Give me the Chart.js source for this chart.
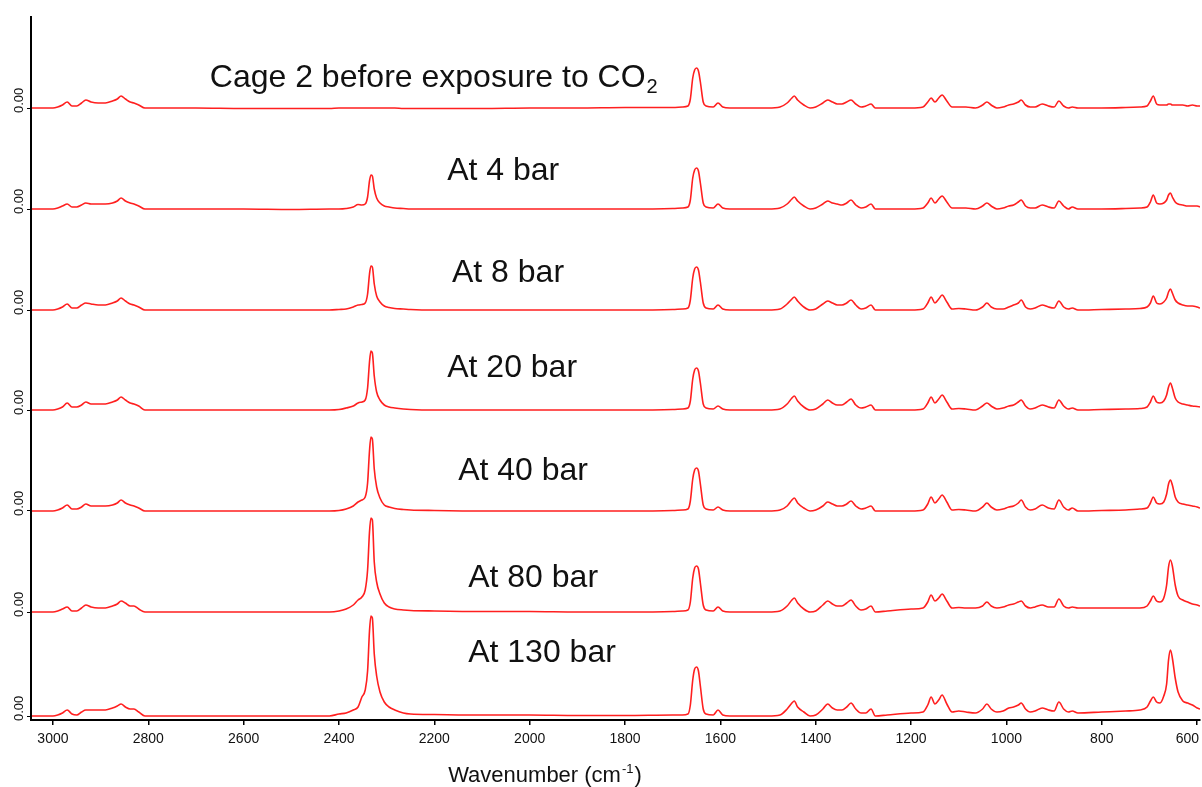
<!DOCTYPE html>
<html>
<head>
<meta charset="utf-8">
<script src="https://cdn.jsdelivr.net/npm/chart.js@4.4.1/dist/chart.umd.min.js"></script>
<style>
  html, body { margin: 0; padding: 0; background: #ffffff; }
  #wrap { width: 1202px; height: 787px; position: relative; }
</style>
</head>
<body>
<div id="wrap"><canvas id="spectra"></canvas></div>
<script>
// Raman shift axis (cm-1), shared by every trace
const wavenumbers = [
  3044, 3000, 2990, 2980, 2970, 2960, 2950, 2940, 2931, 2920, 2905, 2890, 2875, 2865, 2857, 2848, 2838, 2830, 2820, 2807,
  2700, 2600, 2500, 2420, 2400, 2385, 2370, 2360, 2352, 2345, 2340, 2336, 2333, 2330, 2326, 2321, 2314, 2305, 2295, 2283, 2265, 2250, 2200, 2100, 2000, 1900, 1800,
  1700, 1680, 1668, 1663, 1658, 1654, 1650, 1646, 1642, 1636, 1630, 1615, 1605, 1595, 1580, 1500,
  1475, 1460, 1450, 1445, 1438, 1425, 1412, 1400, 1385, 1375, 1365, 1355, 1345, 1335, 1326, 1316, 1305, 1295, 1284, 1275, 1250, 1200,
  1175, 1165, 1158, 1150, 1142, 1135, 1125, 1114, 1100, 1085, 1065, 1050, 1041, 1032, 1020, 1007, 995, 985, 975, 969, 960, 950, 940, 925, 912, 900, 890, 880, 870, 862, 850, 800, 750,
  720, 705, 698, 692, 685, 678, 670, 664, 660, 656, 652, 646, 640, 630, 620, 610, 600, 594
];

// Intensities above each trace's own zero line
const beforeCO2 = [
  0, 0, 1, 3, 6, 2, 2, 5, 8, 6, 5, 5, 7, 9, 12, 9, 6, 5, 3, 0,
  0, -0.5, -0.5, -0.5, 0, 0, 0, 0, 0, 0, 0, 0, 0, 0, 0, 0, 0, 0, 0, 0, -0.5, -0.5, -0.5, -0.5, 0, 0, 0.5,
  0.5, 1, 2, 9, 30, 38, 40, 37, 26, 6, 2, 1, 5, 1, 0, 0,
  1, 5, 10, 12, 8, 3, 0, 1, 5, 8, 6, 4, 4, 6, 8, 4, 1, 2, 4, 0, 0, 0,
  1, 6, 10, 6, 10, 13, 7, 1, 1, 1, 0, 3, 6, 3, 0, 1, 3, 4, 6, 8, 3, 1, 1, 4, 2, 1, 7, 2, 0, 1, 0, 0, 0.5,
  1, 2, 7, 12, 4, 3, 3, 3, 4, 4, 3, 3, 3, 3, 2, 3, 2, 2
];
const bar4 = [
  0, 0, 1, 3, 5, 2, 2, 4, 6, 5, 5, 5, 6, 8, 11, 8, 6, 5, 3, 0,
  0, 0, -0.5, 0, 0, 0.5, 2, 4.5, 4, 5, 12, 28, 34, 33, 20, 11, 6, 3, 2, 1, 0.5, 0, 0, 0, 0, 0, 0,
  0.5, 1, 2, 9, 31, 39, 41, 38, 26, 6, 2, 1, 5, 1, 0, 0,
  1, 5, 10, 12, 8, 3, 0, 1, 5, 8, 6, 5, 4, 6, 9, 4, 1, 2, 5, 0, 0, 0,
  1, 6, 11, 6, 10, 13, 7, 1, 1, 1, 0, 3, 6, 3, 0, 1, 3, 4, 7, 9, 3, 1, 1, 4, 2, 1, 8, 3, 0, 2, 0, 0, 0.5,
  1, 2, 7, 14, 6, 5, 6, 9, 14, 16, 12, 7, 5, 4, 3, 3, 3, 2
];
const bar8 = [
  0, 0, 1, 3, 6, 2, 2, 5, 7, 6, 5, 5, 7, 9, 12, 9, 6, 5, 3, 0,
  0, 0, 0, 0, 0.5, 1, 3, 5, 5.5, 7, 16, 36, 44, 43, 26, 14, 8, 4, 2.5, 1.5, 1, 0.5, 0, 0, 0, 0, 0,
  0.5, 1, 2, 10, 32, 41, 43, 40, 28, 7, 2, 1, 5, 1, 0, 0,
  1, 6, 11, 13, 9, 3, 0, 1, 6, 9, 7, 5, 5, 7, 10, 5, 1, 2, 5, 0, 0, 0,
  1, 7, 13, 7, 11, 15, 8, 1, 1.5, 1, 0, 3, 7, 3, 1, 1, 3, 5, 7, 10, 3, 1, 2, 5, 3, 2, 9, 3, 1, 2, 0, 0.5, 1,
  1.5, 3, 7, 14, 7, 6, 8, 12, 18, 21, 17, 10, 7, 5, 4, 4, 3, 2
];
const bar20 = [
  0, 0, 1, 3, 7, 3, 3, 5, 8, 6, 6, 6, 8, 10, 13, 10, 7, 6, 4, 0,
  0, 0, 0, 0, 0.5, 2, 4, 7, 8, 10, 22, 48, 59, 57, 34, 18, 10, 5, 3, 2, 1, 0.5, 0, 0, 0, 0, 0,
  0.5, 1, 2, 9, 31, 40, 42, 39, 27, 6, 2, 1, 4, 1, 0, 0,
  1, 6, 12, 14, 9, 3, 0, 1, 6, 10, 7, 5, 5, 8, 11, 5, 2, 3, 5, 0, 0, 0,
  1, 7, 13, 7, 11, 15, 8, 1, 1.5, 1, 0, 4, 7, 4, 1, 2, 4, 5, 8, 10, 4, 1, 2, 5, 3, 2, 10, 4, 1, 2, 0, 0.5, 1,
  1.5, 3, 8, 14, 8, 7, 9, 15, 23, 27, 22, 12, 8, 6, 5, 4, 3.5, 3
];
const bar40 = [
  0, 0, 1, 3, 6, 2, 2, 4, 7, 5, 5, 5, 6, 8, 11, 8, 6, 5, 3, 0,
  0, 0, 0, 0, 0.5, 2, 5, 9, 11, 14, 28, 60, 74, 72, 42, 24, 13, 6, 4, 2.5, 1.5, 1, 0.5, 0, 0, 0, 0,
  0.5, 1, 2, 10, 32, 41, 43, 40, 27, 6, 2, 1, 4, 1, 0, 0,
  1, 5, 11, 13, 8, 3, 0, 1, 5, 9, 7, 5, 5, 7, 10, 5, 2, 3, 5, 0, 0, 0,
  1, 7, 14, 8, 12, 16, 9, 1, 1.5, 1, 0, 4, 8, 4, 1, 2, 4, 5, 8, 11, 4, 1, 2, 6, 3, 2, 11, 4, 1, 3, 0, 0.5, 1,
  2, 3, 8, 14, 8, 7, 9, 17, 27, 31, 26, 14, 9, 7, 6, 5, 4, 3
];
const bar80 = [
  0, 0, 1, 3, 5, 1, 1, 4, 7, 5, 4, 4, 6, 8, 11, 9, 6, 6, 3, 0,
  0, 0, 0, 0, 1, 3, 7, 12, 15, 22, 42, 80, 94, 92, 50, 30, 18, 9, 5, 3, 2, 1.5, 1, 0.5, 0.5, 0, 0,
  0.5, 1, 2, 10, 34, 44, 46, 43, 29, 7, 2, 1, 5, 1, 0, 0,
  1, 6, 12, 14, 9, 3, 0, 1, 7, 11, 8, 6, 6, 9, 12, 6, 2, 3, 6, 0, 1, 3,
  4, 10, 17, 11, 14, 18, 11, 4, 4.5, 4, 4, 6, 10, 6, 4, 5, 7, 8, 10, 11, 6, 4, 5, 7, 5, 5, 13, 6, 4, 5, 4, 4, 4,
  4, 6, 11, 16, 11, 10, 14, 27, 45, 52, 46, 27, 16, 12, 10, 8, 7, 6
];
const bar130 = [
  0, 0, 1, 3, 6, 2, 1, 4, 6, 6, 6, 6, 8, 10, 12, 9, 7, 7, 4, 0,
  0, 0, 0, 0, 2, 3, 6, 9, 19, 26, 45, 85, 100, 98, 62, 40, 24, 14, 9, 6, 3, 2, 1.5, 1, 1, 0.5, 0.5,
  1, 1, 2, 11, 36, 47, 49, 45, 30, 7, 2, 1, 6, 1, 0, 0,
  1, 7, 13, 15, 9, 4, 0, 1, 7, 12, 8, 6, 6, 9, 13, 7, 3, 3, 7, 0, 1, 3,
  4, 11, 19, 12, 16, 21, 12, 4, 5, 4, 3, 7, 12, 7, 4, 5, 8, 9, 11, 13, 7, 4, 5, 8, 6, 5, 14, 7, 4, 5, 3, 4, 5,
  6, 9, 15, 19, 14, 13, 20, 32, 56, 66, 58, 38, 24, 15, 13, 11, 8, 7
];

// Vertical offset of each trace (stacking), top to bottom
const seriesList = [beforeCO2, bar4, bar8, bar20, bar40, bar80, bar130];
const traceOffsets = [608, 507, 406, 306, 205, 104, 0];
const traceNames = ['Cage 2 before exposure to CO2', 'At 4 bar', 'At 8 bar', 'At 20 bar', 'At 40 bar', 'At 80 bar', 'At 130 bar'];
const xTickValues = [3000, 2800, 2600, 2400, 2200, 2000, 1800, 1600, 1400, 1200, 1000, 800, 600];
const zeroLabel = '0.00';

const FONT = "'Liberation Sans', Arial, sans-serif";

const datasets = seriesList.map((vals, k) => ({
  label: traceNames[k],
  data: wavenumbers.map((w, i) => ({ x: w, y: traceOffsets[k] + vals[i] })),
  borderColor: '#ff1f1f',
  borderWidth: 1.6,
  pointRadius: 0,
  cubicInterpolationMode: 'monotone',
  fill: false
}));

// Text drawn on top of the plot: tick numbers, trace captions, rotated zero labels, axis title
const overlay = {
  id: 'overlay',
  afterDraw(chart, args, opts) {
    const { ctx, scales: { x, y } } = chart;
    ctx.save();
    ctx.fillStyle = '#111';

    // wavenumber tick numbers, kept inside the canvas at the right edge
    ctx.font = opts.tickFont;
    ctx.textAlign = 'center';
    ctx.textBaseline = 'alphabetic';
    xTickValues.forEach(v => {
      const s = String(v);
      const w = ctx.measureText(s).width;
      let px = x.getPixelForValue(v);
      px = Math.min(px, chart.width - 3 - w / 2);
      ctx.fillText(s, px, x.top + opts.tickBaseline);
    });

    // "0.00" beside every zero line, written bottom-to-top
    ctx.font = opts.zeroFont;
    traceOffsets.forEach(v => {
      const py = y.getPixelForValue(v);
      ctx.save();
      ctx.translate(opts.zeroX, py + opts.zeroShift);
      ctx.rotate(-Math.PI / 2);
      ctx.textAlign = 'left';
      ctx.textBaseline = 'alphabetic';
      ctx.fillText(zeroLabel, 0, 0);
      ctx.restore();
    });

    // captions
    ctx.textAlign = 'left';
    ctx.textBaseline = 'alphabetic';
    opts.captions.forEach(c => {
      const px = x.getPixelForValue(c.wn);
      const py = y.getPixelForValue(c.y);
      ctx.font = opts.captionFont;
      ctx.fillText(c.text, px, py);
      if (c.sub) {
        const w = ctx.measureText(c.text).width;
        ctx.font = opts.subFont;
        ctx.fillText(c.sub, px + w + 1, py + 6);
      }
    });

    // axis title with superscript
    const t = opts.title;
    const tx = x.getPixelForValue(t.wn);
    const ty = chart.height - t.fromBottom;
    ctx.font = opts.titleFont;
    ctx.fillText(t.text, tx, ty);
    const tw = ctx.measureText(t.text).width;
    ctx.font = opts.supFont;
    ctx.fillText(t.sup, tx + tw + 1, ty - 9);
    const sw = ctx.measureText(t.sup).width;
    ctx.font = opts.titleFont;
    ctx.fillText(t.tail, tx + tw + sw + 2, ty);
    ctx.restore();
  }
};

new Chart(document.getElementById('spectra'), {
  type: 'line',
  data: { datasets },
  plugins: [overlay],
  options: {
    responsive: true,
    maintainAspectRatio: false,
    animation: false,
    devicePixelRatio: 1,
    layout: { padding: { top: 17, right: 2, left: 0, bottom: 0 } },
    plugins: {
      legend: { display: false },
      tooltip: { enabled: false },
      overlay: {
        tickFont: '14px ' + FONT,
        tickBaseline: 23,
        zeroFont: '13px ' + FONT,
        zeroX: 23,
        zeroShift: 5,
        captionFont: '32px ' + FONT,
        subFont: '20px ' + FONT,
        titleFont: '22px ' + FONT,
        supFont: '13px ' + FONT,
        captions: [
          { text: 'Cage 2 before exposure to CO', sub: '2', wn: 2671, y: 629 },
          { text: 'At 4 bar', wn: 2173, y: 536 },
          { text: 'At 8 bar', wn: 2163, y: 434 },
          { text: 'At 20 bar', wn: 2173, y: 339 },
          { text: 'At 40 bar', wn: 2150, y: 236 },
          { text: 'At 80 bar', wn: 2129, y: 129 },
          { text: 'At 130 bar', wn: 2129, y: 54 }
        ],
        title: { text: 'Wavenumber (cm', sup: '-1', tail: ')', wn: 2171, fromBottom: 5 }
      }
    },
    scales: {
      x: {
        type: 'linear',
        reverse: true,
        min: 594,
        max: 3046,
        afterFit: s => { s.height = 67; s.paddingLeft = 0; s.paddingRight = 0; },
        afterBuildTicks: s => { s.ticks = xTickValues.map(v => ({ value: v })); },
        border: { display: true, color: '#000', width: 2 },
        grid: { drawOnChartArea: false, drawTicks: true, tickLength: 5, color: '#000', lineWidth: 1.5 },
        ticks: { display: false }
      },
      y: {
        type: 'linear',
        min: -4,
        max: 699,
        afterFit: s => { s.width = 31; s.paddingTop = 0; s.paddingBottom = 0; },
        afterBuildTicks: s => { s.ticks = traceOffsets.map(v => ({ value: v })); },
        border: { display: true, color: '#000', width: 2 },
        grid: { drawOnChartArea: false, drawTicks: true, tickLength: 4, color: '#000', lineWidth: 1 },
        ticks: { display: false }
      }
    }
  }
});
</script>
</body>
</html>
